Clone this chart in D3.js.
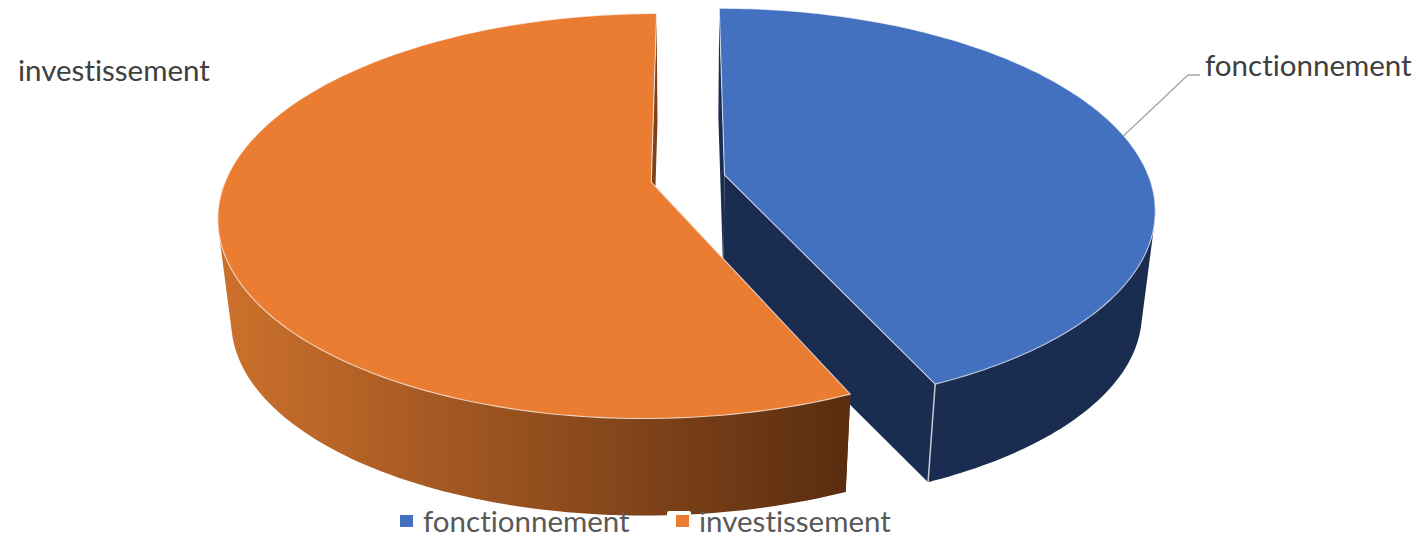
<!DOCTYPE html>
<html>

<head>
    <title>Fonctionnement / investissement</title>
    <script src="https://cdn.jsdelivr.net/npm/d3@7"></script>
    <style>
        body { margin: 0; background: #fff; }
        text { font-family: Lato, "Open Sans", sans-serif; font-variant-ligatures: none; }
    </style>
</head>

<body>
    <svg width="1422" height="536" id="mainsvg" style="display: block;"></svg>
    <script>
        const categories = ['fonctionnement', 'investissement'];
        const values = [43.3, 56.7];
        const topColors = ['#4371C0', '#EA7D32'];

        const svg = d3.select('svg');

        // plane of the pie -> screen, with perspective
        const origin = [688, 178.5], radiusX = 425, radiusY = 195.6, persp = 0.167, explode = 0.088;
        // vertical edges all run toward this point, the base is a scaled copy of the top
        const vanish = [688, 3800], baseScale = 0.9713;

        function project(U, V) {
            const w = 1 - persp * V;
            return [origin[0] + radiusX * U / w, origin[1] + radiusY * V / w];
        }
        function toBase(p) {
            return [vanish[0] + baseScale * (p[0] - vanish[0]), vanish[1] + baseScale * (p[1] - vanish[1])];
        }

        const arcs = d3.pie().sort(null)(values);
        const line = d3.line();
        const poly = pts => line(pts) + 'Z';

        const defs = svg.append('defs');
        const grad = defs.append('linearGradient').attr('id', 'wallOrange')
            .attr('gradientUnits', 'userSpaceOnUse')
            .attr('x1', 228).attr('x2', 846).attr('y1', 0).attr('y2', 0);
        grad.append('stop').attr('offset', 0).attr('stop-color', '#CB702C');
        grad.append('stop').attr('offset', 1).attr('stop-color', '#5A2D10');

        const wallFill = ['#1A2C50', 'url(#wallOrange)'];

        arcs.forEach((a, i) => {
            const mid = (a.startAngle + a.endAngle) / 2;
            const ox = explode * Math.sin(mid), oy = -explode * Math.cos(mid);
            const rimPoint = t => project(ox + Math.sin(t), oy - Math.cos(t));
            const center = project(ox, oy);

            const steps = 160;
            const angles = d3.range(steps + 1).map(j => a.startAngle + (a.endAngle - a.startAngle) * j / steps);
            const rim = angles.map(rimPoint);
            const g = svg.append('g').attr('class', 'slice');

            // radial faces
            [a.startAngle, a.endAngle].forEach(t => {
                const p = rimPoint(t);
                g.append('path').attr('d', poly([center, p, toBase(p), toBase(center)]))
                    .attr('fill', wallFill[i]);
            });

            // outer wall, front part of the rim only
            const front = angles.filter(t => Math.cos(t) < 0).map(rimPoint);
            const hull = d3.polygonHull(front.concat(front.map(toBase)));
            g.append('path').attr('d', poly(hull)).attr('fill', wallFill[i]);

            // edge between radial face and wall
            const endP = rimPoint(a.endAngle);
            g.append('path').attr('d', line([endP, toBase(endP)]))
                .attr('stroke', i === 0 ? '#C4C9D2' : 'none').attr('stroke-width', 1.5).attr('fill', 'none');

            // top
            g.append('path').attr('d', poly([center].concat(rim)))
                .attr('fill', topColors[i])
                .attr('stroke', '#fff').attr('stroke-opacity', 0.7).attr('stroke-width', 1.1)
                .attr('stroke-linejoin', 'round');
        });

        // leader line of the first label
        const midBlue = (arcs[0].startAngle + arcs[0].endAngle) / 2;
        const leadStart = project(explode * Math.sin(midBlue) + Math.sin(midBlue), -explode * Math.cos(midBlue) - Math.cos(midBlue));
        svg.append('path').attr('d', line([leadStart, [1188, 75], [1200, 75]]))
            .attr('fill', 'none').attr('stroke', '#A6A6A6').attr('stroke-width', 1.3);

        // data labels
        const labelPos = [[1205, 76], [18, 81]];
        svg.selectAll('.dataLabel').data(categories).join('text')
            .attr('class', 'dataLabel')
            .attr('x', (d, i) => labelPos[i][0])
            .attr('y', (d, i) => labelPos[i][1])
            .attr('font-size', 29.5)
            .attr('fill', '#404040')
            .text(d => d);

        // legend
        const legendX = [400, 676];
        svg.append('rect').attr('x', 667).attr('y', 511).attr('width', 24).attr('height', 25)
            .attr('rx', 2).attr('fill', '#fff');
        svg.selectAll('.legendKey').data(categories).join('rect')
            .attr('class', 'legendKey')
            .attr('x', (d, i) => legendX[i])
            .attr('y', 515)
            .attr('width', 13).attr('height', 12)
            .attr('fill', (d, i) => topColors[i]);
        svg.selectAll('.legendText').data(categories).join('text')
            .attr('class', 'legendText')
            .attr('x', (d, i) => legendX[i] + 23)
            .attr('y', 532)
            .attr('font-size', 29.5)
            .attr('fill', '#595959')
            .text(d => d);
    </script>
</body>

</html>
